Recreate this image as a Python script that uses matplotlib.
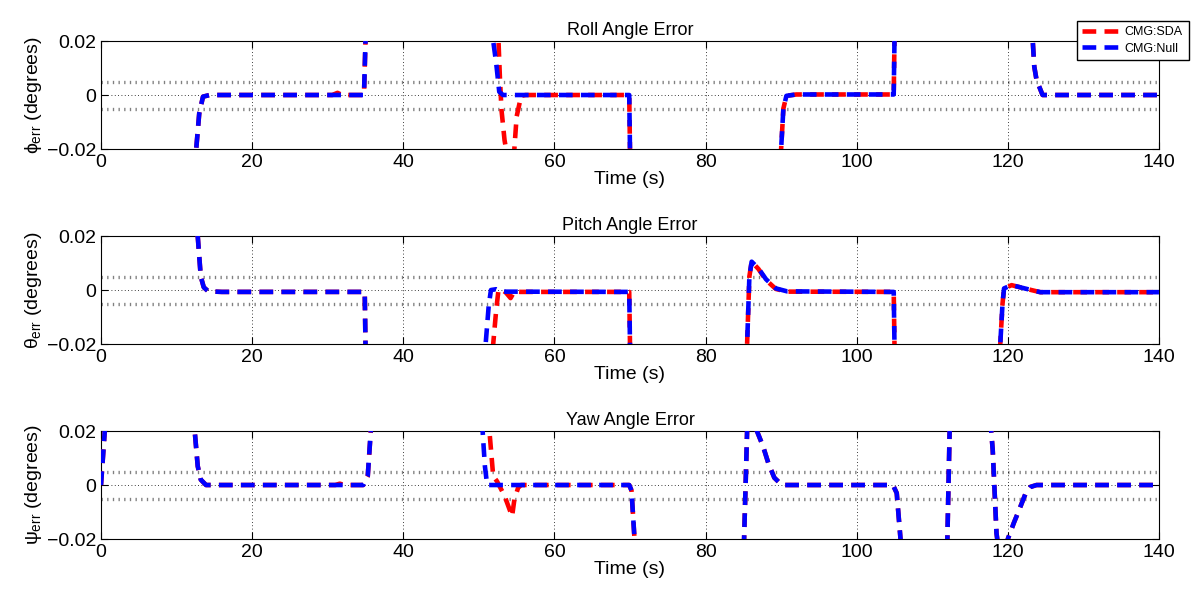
import numpy as np
import matplotlib
matplotlib.use('Agg')
import matplotlib.pyplot as plt

plt.rcParams['font.family'] = ['Liberation Sans', 'DejaVu Sans']
plt.rcParams['mathtext.fontset'] = 'custom'
plt.rcParams['mathtext.rm'] = 'Liberation Sans'
plt.rcParams['mathtext.it'] = 'Liberation Sans'

# off-scale values (+/-0.05) are clipped by the axes limits
roll_t_null = [0, 12.4, 12.6, 13.0, 13.5, 14.4, 34.8, 35.0, 35.1, 51.8, 51.9, 52.3, 52.7, 53.2,
               69.9, 70.0, 70.1, 89.9, 90.0, 90.3, 90.7, 92.0, 104.9, 105.0, 105.1,
               123.2, 123.3, 123.5, 123.8, 124.6, 140]
roll_v_null = [-0.05, -0.05, -0.02, -0.0068, -0.0006, 0.0, 0.0, 0.02, 0.05, 0.05, 0.02, 0.0117, 0.0012, 0.0,
               0.0, -0.02, -0.05, -0.05, -0.02, -0.005, -0.0003, 0.0002, 0.0002, 0.02, 0.05,
               0.05, 0.02, 0.0105, 0.0056, 0.0, 0.0]
roll_t_sda = [0, 12.4, 12.6, 13.0, 13.5, 14.4, 30.6, 31.3, 31.9, 34.8, 35.0, 35.1, 52.5, 52.6, 52.8,
              53.0, 53.4, 53.6, 53.7, 54.6, 54.7, 55.0, 55.6, 56.2,
              69.9, 70.0, 70.1, 89.9, 90.0, 90.3, 90.7, 92.0, 104.9, 105.0, 105.1,
              123.2, 123.3, 123.5, 123.8, 124.6, 140]
roll_v_sda = [-0.05, -0.05, -0.02, -0.0068, -0.0006, 0.0, 0.0, 0.0008, 0.0, 0.0, 0.02, 0.05, 0.05, 0.02, 0.0056,
              -0.0056, -0.0167, -0.02, -0.05, -0.05, -0.02, -0.008, -0.0003, 0.0,
              0.0, -0.02, -0.05, -0.05, -0.02, -0.005, -0.0003, 0.0002, 0.0002, 0.02, 0.05,
              0.05, 0.02, 0.0105, 0.0056, 0.0, 0.0]

pitch_t_null = [0, 12.7, 12.8, 13.2, 13.6, 14.2, 16.0, 34.9, 35.0, 35.1, 50.8, 50.9, 51.3, 51.6, 52.3, 53.0,
                69.9, 70.0, 70.1, 85.4, 85.5, 85.8, 86.1, 87.0, 88.0, 89.3, 90.8, 104.9, 105.0, 105.1,
                118.9, 119.0, 119.3, 119.5, 120.5, 122.8, 124.3, 140]
pitch_v_null = [0.05, 0.05, 0.02, 0.005, 0.001, -0.0005, -0.0007, -0.0007, -0.02, -0.05, -0.05, -0.02, -0.006, 0.0, 0.0003, -0.0006,
                -0.0007, -0.02, -0.05, -0.05, -0.02, 0.005, 0.0105, 0.008, 0.004, 0.0006, -0.0005, -0.0007, -0.02, -0.05,
                -0.05, -0.02, -0.005, 0.0006, 0.0018, 0.0002, -0.0008, -0.0008]
pitch_t_sda = [0, 12.7, 12.8, 13.2, 13.6, 14.2, 16.0, 34.9, 35.0, 35.1, 51.8, 51.9, 52.3, 52.6, 53.0, 53.6, 54.2, 54.7, 55.5,
               69.9, 70.0, 70.1, 85.4, 85.5, 85.8, 86.1, 87.0, 88.0, 89.3, 90.8, 104.9, 105.0, 105.1,
               118.9, 119.0, 119.3, 119.5, 120.5, 122.8, 124.3, 140]
pitch_v_sda = [0.05, 0.05, 0.02, 0.005, 0.001, -0.0005, -0.0007, -0.0007, -0.02, -0.05, -0.05, -0.02, -0.0073, 0.0, 0.0002, -0.001, -0.003, -0.0005, -0.0007,
               -0.0007, -0.02, -0.05, -0.05, -0.02, 0.005, 0.0105, 0.0078, 0.0037, 0.0004, -0.0006, -0.0007, -0.02, -0.05,
               -0.05, -0.02, -0.005, 0.0006, 0.0018, 0.0002, -0.0008, -0.0008]

yaw_t_null = [0, 0.5, 0.6, 12.3, 12.4, 12.8, 13.2, 13.9, 34.7, 35.3, 35.7, 35.8, 50.4, 50.5, 50.8, 51.1,
              69.9, 70.2, 70.6, 70.7, 85.0, 85.1, 85.5, 85.6, 86.7, 86.8, 87.6, 88.3, 89.1, 90.1,
              104.8, 105.3, 105.8, 105.9, 111.9, 112.0, 112.3, 112.4, 117.7, 117.8, 118.0, 118.3, 118.5, 118.6, 118.7,
              119.9, 120.0, 120.8, 121.5, 122.3, 123.0, 123.8, 140]
yaw_v_null = [0.0, 0.02, 0.05, 0.05, 0.02, 0.007, 0.002, 0.0, 0.0, 0.0033, 0.02, 0.05, 0.05, 0.02, 0.007, 0.0,
              0.0, -0.002, -0.02, -0.05, -0.05, -0.02, 0.02, 0.05, 0.05, 0.02, 0.0144, 0.0082, 0.0027, 0.0,
              0.0, -0.003, -0.02, -0.05, -0.05, -0.02, 0.02, 0.05, 0.05, 0.02, 0.013, -0.0054, -0.0178, -0.02, -0.05,
              -0.05, -0.02, -0.014, -0.0092, -0.0035, -0.0007, 0.0, 0.0]
yaw_t_sda = [0, 0.5, 0.6, 12.3, 12.4, 12.8, 13.2, 13.9, 31.0, 31.6, 32.2, 34.7, 35.3, 35.7, 35.8, 51.3, 51.4, 51.9, 52.4,
             53.4, 53.9, 54.4, 54.7, 55.2, 55.6,
             69.9, 70.2, 70.6, 70.7, 85.0, 85.1, 85.5, 85.6, 86.7, 86.8, 87.6, 88.3, 89.1, 90.1,
             104.8, 105.3, 105.8, 105.9, 111.9, 112.0, 112.3, 112.4, 117.7, 117.8, 118.0, 118.3, 118.5, 118.6, 118.7,
             119.9, 120.0, 120.8, 121.5, 122.3, 123.0, 123.8, 140]
yaw_v_sda = [0.0, 0.02, 0.05, 0.05, 0.02, 0.007, 0.002, 0.0, 0.0, 0.0005, 0.0, 0.0, 0.0033, 0.02, 0.05, 0.05, 0.02, 0.0033, 0.0014,
             -0.004, -0.0078, -0.0116, -0.0054, -0.001, 0.0,
             0.0, -0.002, -0.02, -0.05, -0.05, -0.02, 0.02, 0.05, 0.05, 0.02, 0.0144, 0.0082, 0.0027, 0.0,
             0.0, -0.003, -0.02, -0.05, -0.05, -0.02, 0.02, 0.05, 0.05, 0.02, 0.013, -0.0054, -0.0178, -0.02, -0.05,
             -0.05, -0.02, -0.014, -0.0092, -0.0035, -0.0007, 0.0, 0.0]

titles = ['Roll Angle Error', 'Pitch Angle Error', 'Yaw Angle Error']
ylabels = [r'$\phi_{\rm err}$ (degrees)', r'$\theta_{\rm err}$ (degrees)', r'$\psi_{\rm err}$ (degrees)']
series = [(roll_t_sda, roll_v_sda, roll_t_null, roll_v_null),
          (pitch_t_sda, pitch_v_sda, pitch_t_null, pitch_v_null),
          (yaw_t_sda, yaw_v_sda, yaw_t_null, yaw_v_null)]
tol = 0.005

fig = plt.figure(figsize=(11.91, 5.92), dpi=100)
bottoms = [0.7483, 0.4189, 0.0895]
handles = None
for i in range(3):
    ax = fig.add_axes([0.0848, bottoms[i], 0.8883, 0.1824])
    ts, vs, tn, vn = series[i]
    # tolerance band
    for y in (tol, -tol):
        ax.axhline(y, color='0.5', lw=2.4, linestyle=(0, (0.4, 1.3)), zorder=1)
    h1, = ax.plot(ts, vs, color='r', lw=3.3, dashes=(3.0, 1.8), label='CMG:SDA', zorder=3)
    h2, = ax.plot(tn, vn, color='b', lw=3.3, dashes=(3.0, 1.8), label='CMG:Null', zorder=4)
    handles = [h1, h2]
    ax.set_xlim(0, 140)
    ax.set_ylim(-0.02, 0.02)
    ax.set_xticks(np.arange(0, 141, 20))
    ax.set_yticks([-0.02, 0, 0.02])
    ax.set_yticklabels(['\u22120.02', '0', '0.02'])
    ax.grid(True, linestyle=(0, (1, 3)), color='k', lw=0.6)
    ax.tick_params(direction='in', top=True, right=True, labelsize=14, length=5)
    ax.set_title(titles[i], fontsize=13, pad=4)
    ax.set_xlabel('Time (s)', fontsize=14, labelpad=0)
    ax.set_ylabel(ylabels[i], fontsize=14, labelpad=2)

fig.legend(handles=handles, loc='upper right', bbox_to_anchor=(0.998, 0.965), fontsize=9,
           fancybox=False, edgecolor='k', framealpha=1, handlelength=2.9, borderaxespad=0,
           borderpad=0.45, labelspacing=0.35, handletextpad=0.5)

fig.savefig('out.png', dpi=100)
